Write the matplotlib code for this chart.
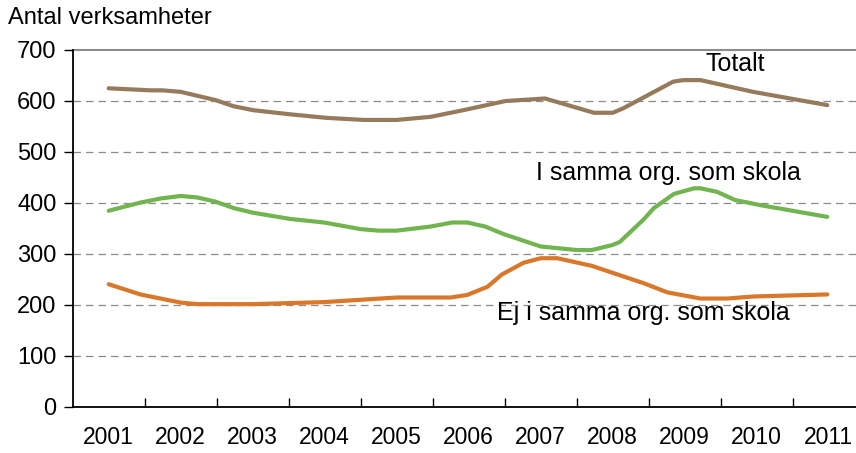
import matplotlib
matplotlib.use("Agg")
import matplotlib.pyplot as plt
from matplotlib.ticker import FixedLocator, NullFormatter

plt.rcParams['font.family'] = ['Liberation Sans', 'DejaVu Sans']

years = list(range(2001, 2012))

tot_x = [2001.00, 2001.58, 2001.74, 2002.00, 2002.48, 2002.73, 2003.01, 2003.52, 2004.03,
         2004.54, 2005.00, 2005.47, 2005.89, 2006.51, 2007.06, 2007.74, 2008.00, 2008.15,
         2008.84, 2008.98, 2009.22, 2009.95, 2010.98]
tot_y = [624, 620, 620, 617, 601, 589, 581, 573, 566,
         562, 562, 568, 580, 599, 604, 576, 576, 585,
         637, 640, 640, 617, 591]

same_x = [2001.00, 2001.44, 2001.72, 2002.00, 2002.23, 2002.48, 2002.74, 2003.01, 2003.52,
          2003.99, 2004.50, 2004.75, 2005.00, 2005.47, 2005.77, 2005.98, 2006.23, 2006.49,
          2007.00, 2007.50, 2007.71, 2008.00, 2008.10, 2008.43, 2008.57, 2008.85, 2009.13,
          2009.22, 2009.45, 2009.70, 2010.05, 2010.98]
same_y = [384, 400, 408, 413, 410, 402, 389, 380, 368,
          361, 348, 345, 345, 353, 361, 361, 353, 338,
          314, 307, 307, 317, 323, 367, 389, 417, 428,
          428, 421, 405, 395, 372]

ej_x = [2001.00, 2001.44, 2002.00, 2002.23, 2003.01, 2003.99, 2005.00, 2005.75, 2005.98,
        2006.26, 2006.46, 2006.76, 2007.00, 2007.23, 2007.71, 2008.43, 2008.76, 2009.22,
        2009.59, 2009.96, 2010.98]
ej_y = [240, 220, 204, 201, 201, 205, 214, 214, 219,
        235, 259, 282, 291, 291, 276, 242, 224, 212,
        212, 216, 220]

series_labels = ["Totalt", "I samma org. som skola", "Ej i samma org. som skola"]
colors = ["#957A5C", "#72B450", "#D9782B"]

fig = plt.figure(figsize=(8.56, 4.53), dpi=100)
ax = fig.add_axes([72.7/856, 46.3/453, 792/856, 357.2/453])

ax.plot(tot_x, tot_y, color=colors[0], lw=3.0, solid_capstyle='round', zorder=3)
ax.plot(same_x, same_y, color=colors[1], lw=3.0, solid_capstyle='round', zorder=3)
ax.plot(ej_x, ej_y, color=colors[2], lw=3.0, solid_capstyle='round', zorder=3)

ax.set_xlim(2000.5, 2011.5)
ax.set_ylim(0, 700)

ax.set_yticks(range(0, 701, 100))
for v in range(100, 700, 100):
    ax.axhline(v, color='#8C8C8C', lw=0.9, ls=(0, (6, 4)), zorder=1)
ax.axhline(700, color='#8C8C8C', lw=1.5, zorder=1, clip_on=False)

ax.xaxis.set_major_locator(FixedLocator(years))
ax.set_xticklabels([str(y) for y in years])
ax.xaxis.set_minor_locator(FixedLocator([y + 0.5 for y in years[:-1]]))
ax.xaxis.set_minor_formatter(NullFormatter())
ax.tick_params(axis='x', which='major', length=0, pad=14, labelsize=16.5)
ax.tick_params(axis='x', which='minor', direction='in', length=6.5, width=1.0, color='black')
ax.tick_params(axis='y', which='major', direction='out', length=6.5, width=1.0, pad=5, labelsize=17)

for s in ['top', 'right']:
    ax.spines[s].set_visible(False)
for s in ['left', 'bottom']:
    ax.spines[s].set_linewidth(1.3)
    ax.spines[s].set_color('black')

fig.text(8/856, 1 - 18/453, "Antal verksamheter", fontsize=17, ha='left', va='center')

ax.text(2009.70, 672, series_labels[0], fontsize=18, ha='center', va='center')
ax.text(2008.77, 458, series_labels[1], fontsize=18, ha='center', va='center')
ax.text(2008.42, 184, series_labels[2], fontsize=18, ha='center', va='center')

fig.savefig("out.png", dpi=100)
